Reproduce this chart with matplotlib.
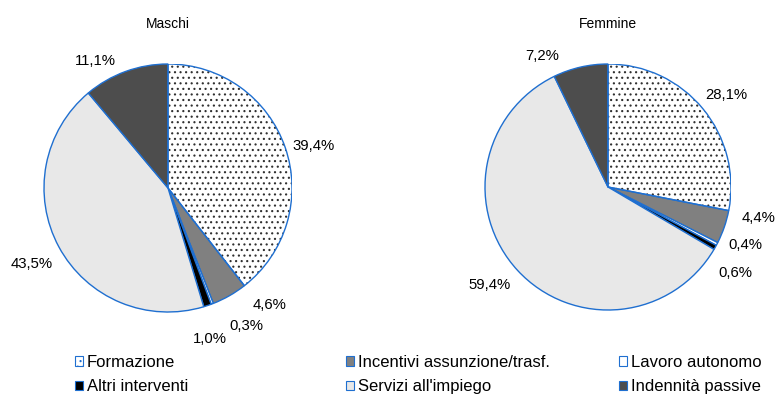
import numpy as np
import matplotlib.pyplot as plt
from matplotlib.patches import Patch, Wedge

plt.rcParams['font.family'] = ['Liberation Sans', 'DejaVu Sans']
plt.rcParams['font.size'] = 10
plt.rcParams['hatch.linewidth'] = 0.8

# Dati
categorie = ['Formazione', 'Incentivi assunzione/trasf.', 'Lavoro autonomo',
             'Altri interventi', "Servizi all'impiego", 'Indennità passive']
maschi = [39.4, 4.6, 0.3, 1.0, 43.5, 11.1]
femmine = [28.1, 4.4, 0.4, 0.6, 59.4, 7.2]
titoli = ['Maschi', 'Femmine']

colori = ['white', '#808080', 'white', 'black', '#E8E8E8', '#4D4D4D']
tratteggi = ['...', None, None, None, None, None]
bordo = '#1F6FD0'
punti = '#303030'

# spostamento angolare (gradi) e distanza delle etichette
etichette_maschi = [(-2.9, 1.22), (11.4, 1.25), (8.6, 1.28), (-3.0, 1.26), (0.8, 1.26), (9.9, 1.18)]
etichette_femmine = [(-1.8, 1.22), (7.4, 1.25), (4.7, 1.21), (-4.5, 1.25), (-3.0, 1.25), (13.9, 1.19)]


def disegna_torta(ax, valori, etichette):
    wedges, testi = ax.pie(valori, colors=colori, startangle=90, counterclock=False,
                           labels=[f'{v:.1f}%'.replace('.', ',') for v in valori],
                           wedgeprops=dict(edgecolor=bordo, linewidth=1.0))
    for w, h in zip(wedges, tratteggi):
        if h:
            # puntini grigi, bordo blu disegnato sopra
            w.set_hatch(h)
            w.set_edgecolor(punti)
            w.set_linewidth(0)
            ax.add_patch(Wedge(w.center, w.r, w.theta1, w.theta2, fill=False,
                               edgecolor=bordo, linewidth=1.0))
    for w, t, (da, dist) in zip(wedges, testi, etichette):
        ang = np.deg2rad((w.theta1 + w.theta2) / 2 + da)
        t.set_position((dist * np.cos(ang), dist * np.sin(ang)))
        t.set_ha('center')
        t.set_va('center')
        t.set_fontsize(10.7)
    ax.set_xlim(-1, 1)
    ax.set_ylim(-1, 1)
    ax.set_aspect('equal')


fig = plt.figure(figsize=(7.76, 3.96), dpi=100)
w1, w2 = 248, 246
ax1 = fig.add_axes([(168 - w1 / 2) / 776, 1 - (188 + w1 / 2) / 396, w1 / 776, w1 / 396])
ax2 = fig.add_axes([(608 - w2 / 2) / 776, 1 - (187 + w2 / 2) / 396, w2 / 776, w2 / 396])

disegna_torta(ax1, maschi, etichette_maschi)
disegna_torta(ax2, femmine, etichette_femmine)

fig.text(168 / 776, 1 - 24 / 396, titoli[0], ha='center', va='center', fontsize=10)
fig.text(608 / 776, 1 - 24 / 396, titoli[1], ha='center', va='center', fontsize=10)

# legenda su tre colonne
maniglie = [Patch(facecolor=c, edgecolor=bordo, hatch=h, linewidth=0.8)
            for c, h in zip(colori, tratteggi)]
colonne_x = [75, 346, 619]
for i, x in enumerate(colonne_x):
    idx = [i, i + 3]
    fig.legend([maniglie[j] for j in idx], [categorie[j] for j in idx],
               loc='upper left', bbox_to_anchor=(x / 776, 1 - 355 / 396),
               frameon=False, handlelength=0.5, handleheight=0.5,
               handletextpad=0.2, labelspacing=0.55, borderpad=0,
               borderaxespad=0, fontsize=12)

fig.savefig('out.png', dpi=100)
